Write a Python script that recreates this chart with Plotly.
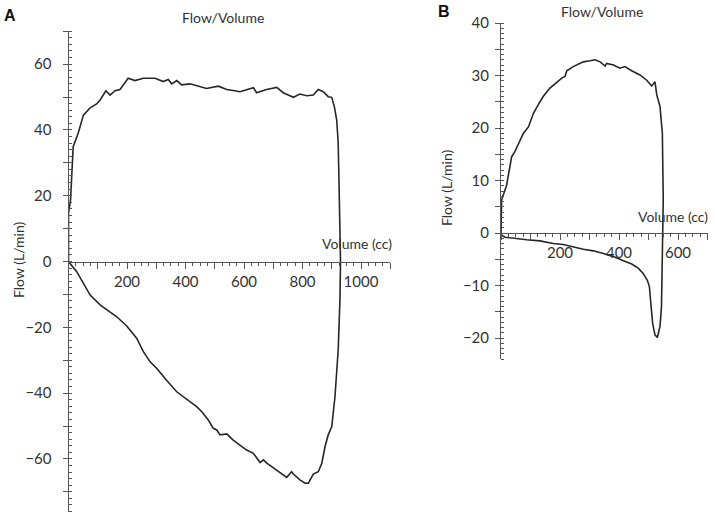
import plotly.graph_objects as go

# ---------------- data ----------------
# Panel A: expiratory (upper) limb, volume (cc) / flow (L/min)
a_up_vol = [0, 0, 7, 16, 33, 51, 73, 96, 108, 128, 142, 159, 176, 204, 227, 256, 296, 324, 341,
            353, 370, 387, 415, 450, 472, 512, 541, 563, 586, 632, 643, 677, 712, 734, 769, 791,
            814, 837, 854, 871, 888, 900, 909, 917, 922, 926, 930]
a_up_flow = [0, 14.7, 18.7, 34.9, 39, 44.5, 46.6, 47.9, 49.1, 51.9, 50.6, 51.9, 52.3, 55.7, 55,
             55.7, 55.7, 54.7, 55.3, 54, 55, 53.7, 54, 53.1, 52.6, 53.3, 52.3, 52, 51.6, 52.8,
             51.3, 52.3, 52.9, 51.3, 49.9, 50.9, 50.4, 50.6, 52.3, 51.6, 50.1, 49.9, 47, 43, 36,
             18.7, 0.5]
# Panel A: inspiratory (lower) limb, from right to left
a_lo_vol = [930, 928, 922, 911, 900, 888, 877, 866, 854, 837, 820, 809, 791, 769, 763, 746, 723,
            700, 678, 666, 655, 632, 609, 586, 563, 541, 518, 507, 495, 478, 455, 438, 404, 370,
            336, 302, 279, 256, 233, 199, 165, 108, 74, 51, 28, 0]
a_lo_flow = [0, -11.7, -26.9, -41.1, -50.2, -52.7, -56.3, -61.3, -63.9, -64.6, -67.4, -67.4,
             -66.4, -64.6, -63.9, -65.6, -64.2, -62.9, -61.3, -60.3, -61.1, -58.3, -57.3, -55.8,
             -54.3, -52.4, -52.7, -51.2, -50.7, -48.2, -45.6, -44.1, -41.9, -39.6, -36.2, -32.5,
             -30.5, -27.4, -23.3, -19.6, -16.8, -13.2, -10.2, -6.6, -3.1, 0]

# Panel B: upper limb
b_up_vol = [0, 0, 2, 19, 36, 47, 64, 76, 93, 110, 126, 143, 166, 189, 206, 217, 223, 245, 268,
            279, 302, 319, 336, 353, 358, 381, 403, 420, 443, 471, 494, 511, 522, 528, 539, 547,
            550, 548]
b_up_flow = [0, 4, 6.3, 9.1, 14.5, 15.5, 17.7, 19, 20.2, 22.8, 24.4, 26, 27.6, 28.8, 29.5, 29.8,
             30.9, 31.7, 32.3, 32.6, 32.8, 33, 32.6, 31.8, 32.3, 32, 31.4, 31.7, 30.9, 30.1, 29.1,
             28, 28.8, 26.3, 24.1, 19, 6.3, 0]
# Panel B: lower limb, from right to left
b_lo_vol = [548, 546, 544, 539, 530, 522, 514, 507, 503, 496, 482, 465, 443, 415, 381, 347, 313,
            279, 245, 211, 177, 132, 87, 42, 14, 2, 0]
b_lo_flow = [0, -7.7, -14, -17.8, -19.9, -19.4, -17.2, -12.8, -10.2, -9, -7.7, -6.7, -5.9, -5.3,
             -4.5, -3.9, -3.4, -3.1, -2.7, -2.2, -2, -1.5, -1.3, -1, -0.8, -0.4, 0]

# axis ranges and tick labels
a_x_range = [0, 1100]
a_y_range = [-76, 70]
a_x_ticks = list(range(0, 1101, 100))
a_x_text = ["" if (v % 200 or v == 0) else str(v) for v in a_x_ticks]
a_y_ticks = list(range(-70, 71, 10))
a_y_labels = [60, 40, 20, 0, -20, -40, -60]

b_x_range = [0, 700]
b_y_range = [-24, 40]
b_x_ticks = list(range(0, 701, 100))
b_x_text = ["" if (v % 200 or v == 0) else str(v) for v in b_x_ticks]
b_y_ticks = list(range(-20, 41, 5))
b_y_labels = [40, 30, 20, 10, 0, -10, -20]


def fmt(v):
    return ("\u2212" + str(-v)) if v < 0 else str(v)


a_y_text = [fmt(v) if v in a_y_labels else "" for v in a_y_ticks]
b_y_text = [fmt(v) if v in b_y_labels else "" for v in b_y_ticks]

# ---------------- layout helpers (pixel geometry in the 715x518 window) ----------------
W, H = 715, 518
FONT = "Lato"
TXT = "#333333"
AX = "#555555"
LINE = "#262626"


def fx(px):
    return px / W


def fy(py):
    return 1 - py / H


fig = go.Figure()
fig.add_trace(go.Scatter(x=a_up_vol + a_lo_vol, y=a_up_flow + a_lo_flow, mode="lines",
                         line=dict(color=LINE, width=1.6), xaxis="x", yaxis="y",
                         showlegend=False, hoverinfo="skip"))
fig.add_trace(go.Scatter(x=b_up_vol + b_lo_vol, y=b_up_flow + b_lo_flow, mode="lines",
                         line=dict(color=LINE, width=1.6), xaxis="x2", yaxis="y2",
                         showlegend=False, hoverinfo="skip"))

# panel A geometry: x0 px 68.5, 0.2925 px/cc; y zero px 261.5, 3.29 px/unit
ax0, axs = 68.5, 0.2925
ay0, ays = 261.5, 3.29
# panel B geometry
bx0, bxs = 501, 0.295
by0, bys = 233, 5.25

common_x = dict(showgrid=False, zeroline=False, showline=True, linecolor=AX, linewidth=1,
                ticks="outside", ticklen=6, tickcolor=AX, tickwidth=1, tickmode="array",
                tickfont=dict(family=FONT, size=15, color=TXT), anchor="free",
                automargin=False, fixedrange=True)
common_y = dict(showgrid=False, zeroline=False, showline=True, linecolor=AX, linewidth=1,
                ticks="outside", ticklen=5, tickcolor=AX, tickwidth=1, tickmode="array",
                tickfont=dict(family=FONT, size=15, color=TXT), automargin=False,
                fixedrange=True)

fig.update_layout(
    width=W, height=H, margin=dict(l=0, r=0, t=0, b=0, autoexpand=False),
    paper_bgcolor="white", plot_bgcolor="white",
    xaxis=dict(common_x, range=a_x_range, tickvals=a_x_ticks, ticktext=a_x_text,
               domain=[fx(ax0 + a_x_range[0] * axs), fx(ax0 + a_x_range[1] * axs)],
               position=fy(ay0),
               minor=dict(dtick=25, ticks="outside", ticklen=3, tickcolor=AX, tickwidth=1,
                          showgrid=False)),
    yaxis=dict(common_y, range=a_y_range, tickvals=a_y_ticks, ticktext=a_y_text,
               domain=[fy(ay0 - a_y_range[0] * ays), fy(ay0 - a_y_range[1] * ays)],
               anchor="x", ticklabelstandoff=8,
               minor=dict(dtick=2, ticks="inside", ticklen=3, tickcolor=AX, tickwidth=1,
                          showgrid=False)),
    xaxis2=dict(common_x, range=b_x_range, tickvals=b_x_ticks, ticktext=b_x_text,
                domain=[fx(bx0 + b_x_range[0] * bxs), fx(bx0 + b_x_range[1] * bxs)],
                position=fy(by0),
                minor=dict(dtick=25, ticks="outside", ticklen=3, tickcolor=AX, tickwidth=1,
                           showgrid=False)),
    yaxis2=dict(common_y, range=b_y_range, tickvals=b_y_ticks, ticktext=b_y_text,
                domain=[fy(by0 - b_y_range[0] * bys), fy(by0 - b_y_range[1] * bys)],
                anchor="x2", ticklabelstandoff=3,
                minor=dict(dtick=1, ticks="inside", ticklen=3, tickcolor=AX, tickwidth=1,
                           showgrid=False)),
)

ann = []


def add_text(text, x, y, size=13, bold=False, angle=0, xanchor="center"):
    ann.append(dict(text=("<b>%s</b>" % text) if bold else text, x=fx(x), y=fy(y),
                    xref="paper", yref="paper", showarrow=False, textangle=angle,
                    xanchor=xanchor, yanchor="middle",
                    font=dict(family=FONT if not bold else "Liberation Sans", size=size,
                              color="#111111" if bold else TXT)))


add_text("A", 10, 15, size=16, bold=True)
add_text("B", 444, 12, size=16, bold=True)
add_text("Flow/Volume", 223, 17, size=14)
add_text("Flow/Volume", 602, 12, size=14)
add_text("Volume (cc)", 320, 243, size=14, xanchor="left")
add_text("Volume (cc)", 710, 216, size=14, xanchor="right")
add_text("Flow (L/min)", 18, 260, size=14, angle=-90)
add_text("Flow (L/min)", 447, 188, size=14, angle=-90)

fig.update_layout(annotations=ann)
# remove the default page margin so the 715x518 figure fills the window exactly
fig.write_html("out.html", config={"displayModeBar": False},
               post_script="document.body.style.margin='0';document.body.style.overflow='hidden';")
